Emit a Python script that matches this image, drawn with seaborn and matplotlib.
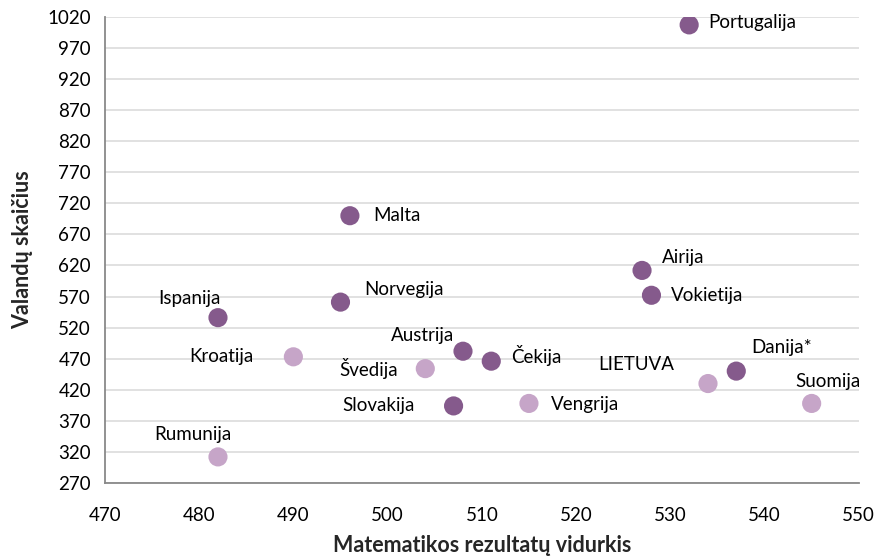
import matplotlib
matplotlib.use('Agg')
import matplotlib.pyplot as plt
import pandas as pd
import seaborn as sns

# chart values
countries = ['Portugalija', 'Malta', 'Norvegija', 'Ispanija', 'Kroatija', 'Austrija',
             'Švedija', 'Slovakija', 'Rumunija', 'Čekija', 'Vengrija', 'LIETUVA',
             'Danija*', 'Suomija', 'Airija', 'Vokietija']
math_score = [532, 496, 495, 482, 490, 508, 504, 507, 482, 511, 515, 534, 537, 545, 527, 528]
hours = [1007, 700, 561, 536, 473, 482, 454, 394, 312, 466, 398, 430, 450, 398, 612, 572]
group = ['A', 'A', 'A', 'A', 'B', 'A', 'B', 'A', 'B', 'A', 'B', 'B', 'A', 'B', 'A', 'A']

# label offsets in points and alignment
label_pos = {
    'Portugalija': (14, 2, 'left'),
    'Malta': (17, 0, 'left'),
    'Norvegija': (17, 9, 'left'),
    'Ispanija': (2, 14, 'right'),
    'Kroatija': (-29, 0, 'right'),
    'Austrija': (-6, 11, 'right'),
    'Švedija': (-20, 0, 'right'),
    'Slovakija': (-28, 0, 'right'),
    'Rumunija': (10, 16, 'right'),
    'Čekija': (14, 4, 'left'),
    'Vengrija': (16, -1, 'left'),
    'LIETUVA': (-24, 14, 'right'),
    'Danija*': (11, 17, 'left'),
    'Suomija': (-12, 16, 'left'),
    'Airija': (14, 9, 'left'),
    'Vokietija': (14, 0, 'left'),
}

df = pd.DataFrame({'country': countries, 'math': math_score, 'hours': hours, 'group': group})

sns.set_style('white')
plt.rcParams['font.family'] = ['Lato', 'DejaVu Sans']

fig = plt.figure(figsize=(8.89, 5.6), dpi=100)
ax = fig.add_axes([0.118, 0.1375, 0.848, 0.8325])

sns.scatterplot(data=df, x='math', y='hours', hue='group',
                palette={'A': '#855A8C', 'B': '#C6A5C8'},
                s=190, edgecolor='none', legend=False, ax=ax, zorder=3)

for i, name in enumerate(countries):
    dx, dy, ha = label_pos[name]
    ax.annotate(name, (math_score[i], hours[i]), xytext=(dx, dy),
                textcoords='offset points', ha=ha, va='center',
                fontsize=13.5, color='black')

ax.set_xlim(470, 550)
ax.set_ylim(270, 1020)
ax.set_xticks(range(470, 551, 10))
ax.set_yticks(range(270, 1021, 50))
ax.grid(axis='y', color='#DCDCDC', linewidth=1.2)
ax.grid(axis='x', visible=False)
ax.set_axisbelow(True)

for side in ['top', 'right']:
    ax.spines[side].set_visible(False)
for side in ['left', 'bottom']:
    ax.spines[side].set_color('#898989')
    ax.spines[side].set_linewidth(1.3)

ax.tick_params(axis='both', direction='out', length=5, width=1.2, color='#898989',
               labelsize=13.5, labelcolor='black', pad=5)
ax.tick_params(axis='x', pad=12)

ax.set_xlabel('Matematikos rezultatų vidurkis', fontsize=15.5, fontweight='bold', labelpad=8)
ax.set_ylabel('Valandų skaičius', fontsize=15.5, fontweight='bold', labelpad=10)

fig.savefig('out.png', dpi=100)
